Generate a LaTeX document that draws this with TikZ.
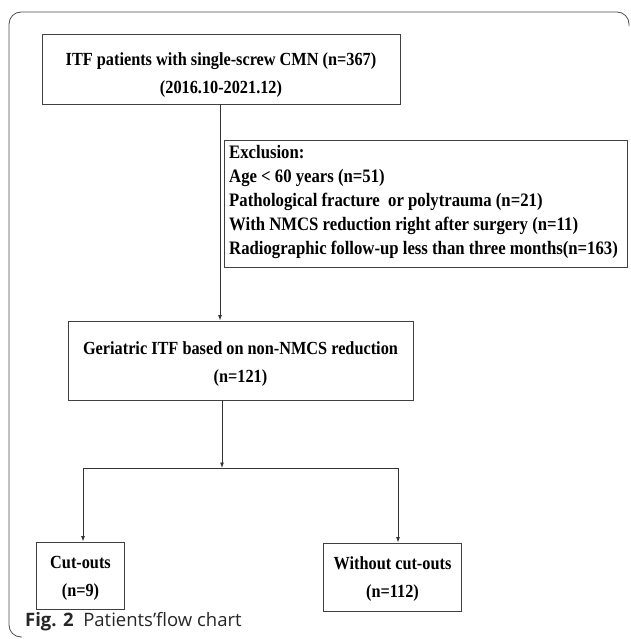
\documentclass[tikz,border=0pt]{standalone}
\usepackage{fontspec}
\setmainfont[FakeStretch=0.88]{Liberation Serif}
\newfontfamily\capfont{Open Sans}
\usetikzlibrary{arrows.meta}
\tikzset{
  box/.style={draw=black!75, line width=0.9pt, inner sep=0pt},
  txt/.style={inner sep=0pt, font=\bfseries\fontsize{18.5}{28}\selectfont, align=center},
  conn/.style={draw=black!80, line width=0.9pt},
  arr/.style={conn, -{Latex[length=5.5pt,width=4pt]}},
  frame/.style={draw=black!70, line width=0.8pt, rounded corners=12pt}
}
\begin{document}
\begin{tikzpicture}[x=1pt,y=-1pt]
\useasboundingbox (0,0) rectangle (630,639);
\draw[frame] (629,26) -- (629,12) -- (9,12) -- (9,637) -- (22,637);
% boxes
\node[box, minimum width=358, minimum height=70] (b1) at (221,69) {};
\node[txt] (t1) at (221,75.5) {ITF patients with single-screw CMN (n=367)\\(2016.10-2021.12)};
\node[box, minimum width=403, minimum height=127, anchor=north west] (ex) at (224,140) {};
\node[txt, anchor=base west, align=left, font=\bfseries\fontsize{19}{24}\selectfont] (et) at (229,254) {Exclusion:\\Age < 60 years (n=51)\\Pathological fracture\ \ or polytrauma (n=21)\\With NMCS reduction right after surgery (n=11)\\Radiographic follow-up less than three months(n=163)};
\node[box, minimum width=345, minimum height=79] (b2) at (240.5,360.5) {};
\node[txt] (t2) at (240.5,364.5) {Geriatric ITF based on non-NMCS reduction\\(n=121)};
\node[box, minimum width=88, minimum height=67] (c1) at (80.5,575.5) {};
\node[txt] (tc1) at (80.5,578.5) {Cut-outs\\(n=9)};
\node[box, minimum width=138, minimum height=68] (c2) at (392.5,577) {};
\node[txt] (tc2) at (392.5,579) {Without cut-outs\\(n=112)};
% connectors
\coordinate (j) at (222,468);
\coordinate (jl) at (83,468);
\coordinate (jr) at (398,468);
\draw[arr] (b1.south -| 220,0) -- (b2.north -| 220,0);
\draw[arr] (b2.south -| j) -- (j);
\draw[conn] (jl) -- (jr);
\draw[arr] (jl) -- (c1.north -| jl);
\draw[arr] (jr) -- (c2.north -| jr);
% caption
\node[anchor=west, font=\capfont\fontsize{18.5}{20}\selectfont, text=black!85, inner sep=0pt] (cap) at (25,622) {\textbf{Fig. 2}\ \ Patients’flow chart};
\end{tikzpicture}
\end{document}
